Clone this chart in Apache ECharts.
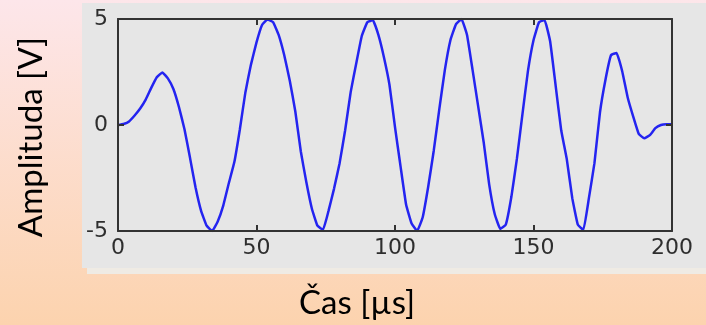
<!DOCTYPE html>
<html>
<head>
<meta charset="utf-8">
<script src="https://cdn.jsdelivr.net/npm/echarts@6/dist/echarts.min.js"></script>
<style>
  html, body { margin: 0; padding: 0; }
  #chart { width: 706px; height: 325px; }
</style>
</head>
<body>
<div id="chart"></div>
<script>
// Sampling instants [µs]
const timeUs = [
  0, 2, 4, 6, 8, 10, 12, 14, 16, 18, 20, 22, 24, 26, 28, 30, 32, 34, 36, 38,
  40, 42, 44, 46, 48, 50, 52, 54, 56, 58, 60, 62, 64, 66, 68, 70, 72, 74, 76, 78,
  80, 82, 84, 86, 88, 90, 92, 94, 96, 98, 100, 102, 104, 106, 108, 110, 112, 114, 116, 118,
  120, 122, 124, 126, 128, 130, 132, 134, 136, 138, 140, 142, 144, 146, 148, 150, 152, 154, 156, 158,
  160, 162, 164, 166, 168, 170, 172, 174, 176, 178, 180, 182, 184, 186, 188, 190, 192, 194, 196, 198, 200
];

// Signal amplitude [V] at each instant
const amplitudeV = [
  0, 0.05, 0.17, 0.45, 0.78, 1.2, 1.75, 2.25, 2.48, 2.2, 1.7, 0.85, -0.2, -1.55, -2.95, -4.05, -4.75, -5.0, -4.55, -3.8,
  -2.75, -1.75, -0.2, 1.55, 2.85, 3.9, 4.72, 4.98, 4.85, 4.25, 3.3, 2.1, 0.65, -1.25, -2.7, -3.95, -4.75, -4.95, -4.05, -3.0,
  -1.8, -0.25, 1.55, 2.9, 4.2, 4.85, 4.95, 4.25, 3.2, 1.9, -0.1, -1.95, -3.75, -4.65, -5.0, -4.35, -2.9, -1.2, 0.75, 2.6,
  4.0, 4.75, 5.0, 4.25, 2.6, 0.9, -0.8, -2.8, -4.2, -4.9, -4.7, -3.4, -1.6, 0.5, 2.55, 4.0, 4.85, 4.95, 3.95, 1.85,
  -0.25, -1.6, -3.45, -4.7, -4.95, -3.45, -1.8, 0.6, 2.15, 3.3, 3.4, 2.55, 1.3, 0.4, -0.42, -0.63, -0.48, -0.15, 0.0, 0.03, 0.03
];

// Axis ranges and tick spacing
const xTicks = { min: 0, max: 200, step: 50 };
const yTicks = { min: -5, max: 5, step: 5 };

const xLabel = 'Čas [µs]';
const yLabel = 'Amplituda [V]';

const points = timeUs.map((t, i) => [t, amplitudeV[i]]);

const chart = echarts.init(document.getElementById('chart'), null, { renderer: 'canvas' });

const tickFont = { color: '#2e2e2e', fontFamily: 'DejaVu Sans', fontSize: 22 };
const frame = '#333333';

// Frame sides with short ticks pointing into the plot box
function frameAxis(range, position, withLabels, margin) {
  return {
    type: 'value', min: range.min, max: range.max, interval: range.step, position: position,
    z: 5,
    axisLine: { show: true, onZero: false, lineStyle: { color: frame, width: 2 } },
    axisTick: { show: true, inside: true, length: 6, lineStyle: { color: frame, width: 2 } },
    axisLabel: withLabels ? Object.assign({ margin: margin }, tickFont) : { show: false },
    splitLine: { show: false }
  };
}

chart.setOption({
  animation: false,
  backgroundColor: new echarts.graphic.LinearGradient(0, 0, 0, 1, [
    { offset: 0, color: '#fde6ea' },
    { offset: 1, color: '#fcd3ae' }
  ]),
  graphic: [
    { type: 'rect', z: -10, shape: { x: 87, y: 268, width: 619, height: 6 }, style: { fill: '#efebe4' } },
    { type: 'rect', z: -10, shape: { x: 82, y: 3, width: 624, height: 265 }, style: { fill: '#e6e6e6' } },
    {
      type: 'text', z: 10, x: 31, y: 137, rotation: Math.PI / 2,
      style: { text: yLabel, fill: '#000', font: '33px Lato', textAlign: 'center', textVerticalAlign: 'middle' }
    },
    {
      type: 'text', z: 10, x: 357, y: 303,
      style: { text: xLabel, fill: '#000', font: '33px Lato', textAlign: 'center', textVerticalAlign: 'middle' }
    }
  ],
  grid: {
    left: 118, right: 34, top: 19, bottom: 94,
    show: false
  },
  xAxis: [
    frameAxis(xTicks, 'bottom', true, 6),
    frameAxis(xTicks, 'top', false)
  ],
  yAxis: [
    frameAxis(yTicks, 'left', true, 10),
    frameAxis(yTicks, 'right', false)
  ],
  series: [{
    type: 'line',
    data: points,
    xAxisIndex: 0, yAxisIndex: 0,
    showSymbol: false,
    smooth: 0.1,
    lineStyle: { color: '#2424f0', width: 2.5 },
    clip: true
  }]
});
</script>
</body>
</html>
